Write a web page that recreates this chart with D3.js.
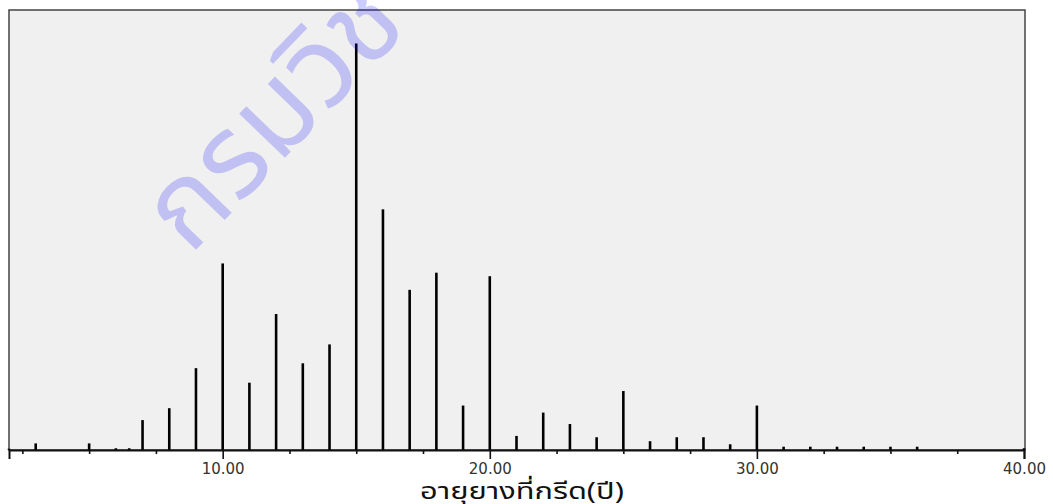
<!DOCTYPE html>
<html>
<head>
<meta charset="utf-8">
<script src="https://cdn.jsdelivr.net/npm/d3@7"></script>
<style>
  body { margin: 0; background: #fff; }
  svg { display: block; }
</style>
</head>
<body>
<div id="graph"></div>
<script>
//ages (years) where a spike is drawn
const ages = [2, 3, 5, 6, 6.5, 7, 8, 9, 10, 11, 12, 13, 14, 15, 16, 17, 18, 19, 20,
    21, 22, 23, 24, 25, 26, 27, 28, 29, 30, 31, 32, 33, 34, 35, 36, 40];
//spike heights (percent of plot height)
const values = [0.3, 1.5, 1.5, 0.4, 0.4, 6.8, 9.5, 18.6, 42.4, 15.3, 30.9, 19.7, 24.0, 92.4,
    54.7, 36.4, 40.3, 10.1, 39.5, 3.2, 8.5, 5.9, 2.9, 13.4, 2.0, 2.9, 2.9, 1.3, 10.1,
    0.75, 0.75, 0.75, 0.75, 0.75, 0.75, 0.4];
//tick values
const majorTicks = [10, 20, 30, 40];
const minorTicks = [2.5, 5, 7.5, 12.5, 15, 17.5, 22.5, 25, 27.5, 32.5, 35, 37.5];
const xTitle = "อายุยางที่กรีด(ปี)";
const watermark = "กรมวิช";

const width = 1053, height = 504;
const plot = { left: 9, right: 1025, top: 10, bottom: 450 };

const svg = d3.select("#graph").append("svg")
    .attr("width", width)
    .attr("height", height);

//scales
const x = d3.scaleLinear().domain([2, 40]).range([plot.left, plot.right - 1]);
const y = d3.scaleLinear().domain([0, 100]).range([plot.bottom, plot.top]);

//plot background
svg.append("rect")
    .attr("x", plot.left)
    .attr("y", plot.top)
    .attr("width", plot.right - plot.left)
    .attr("height", plot.bottom - plot.top)
    .attr("fill", "#f0f0f0")
    .attr("stroke", "#444")
    .attr("stroke-width", 1.5);

//spikes
svg.append("g").selectAll("line")
    .data(ages)
    .enter().append("line")
    .attr("x1", function(d){ return x(d); })
    .attr("x2", function(d){ return x(d); })
    .attr("y1", y(0))
    .attr("y2", function(d, i){ return y(values[i]); })
    .attr("stroke", "#000")
    .attr("stroke-width", 2.6);

//x axis: major ticks with labels
const axis = svg.append("g")
    .attr("transform", "translate(0," + plot.bottom + ")")
    .call(d3.axisBottom(x)
        .tickValues(majorTicks)
        .tickSize(9)
        .tickPadding(4)
        .tickFormat(d3.format(".2f")));

axis.select(".domain")
    .attr("stroke", "#111")
    .attr("stroke-width", 2);
axis.selectAll(".tick line")
    .attr("stroke", "#111")
    .attr("stroke-width", 1.6);
axis.selectAll(".tick text")
    .attr("fill", "#333")
    .attr("font-family", "DejaVu Sans, sans-serif")
    .attr("font-size", "15px");

//minor ticks
svg.append("g")
    .attr("transform", "translate(0," + plot.bottom + ")")
    .call(d3.axisBottom(x)
        .tickValues(minorTicks)
        .tickSize(4)
        .tickFormat(""))
    .call(function(g){ g.select(".domain").remove(); })
    .selectAll(".tick line")
    .attr("stroke", "#111")
    .attr("stroke-width", 1.6);

//axis title, stretched sideways to the reference's wide font
const title = svg.append("text")
    .attr("font-family", "Noto Sans Thai, DejaVu Sans, Noto Sans, sans-serif")
    .attr("font-size", "23px")
    .attr("fill", "#111")
    .text(xTitle);
const titleWidth = title.node().getComputedTextLength();
title.attr("transform", "translate(420,499) scale(" + (204 / titleWidth) + ",1)");

//watermark
svg.append("text")
    .attr("transform", "translate(190,256) rotate(-46)")
    .attr("font-family", "Noto Sans Thai, Noto Sans, sans-serif")
    .attr("font-size", "116px")
    .attr("fill", "#0000ff")
    .attr("fill-opacity", 0.2)
    .text(watermark);
</script>
</body>
</html>
